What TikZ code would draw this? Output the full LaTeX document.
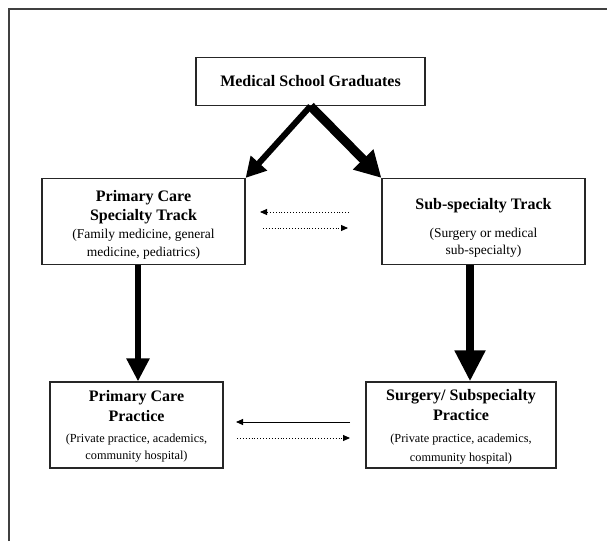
\documentclass[tikz,border=0pt]{standalone}
\usepackage{fontspec}
\setmainfont{Liberation Serif}
\usetikzlibrary{arrows.meta}
\tikzset{
  box/.style={draw=black!85, line width=1.2pt, rectangle, inner sep=0pt, align=center,
              font=\fontsize{12}{18}\selectfont},
  thin arrow/.style={line width=0.9pt, -{Triangle[length=7pt,width=6pt]}},
  dot arrow/.style={line width=0.9pt, dotted, -{Triangle[length=7pt,width=6pt]}},
}
\newcommand{\smalltxt}{\fontsize{12.3}{18}\selectfont\mdseries}
\newcommand{\midtxt}{\fontsize{13.5}{18}\selectfont\mdseries}
\newcommand{\bigtxt}{\fontsize{16}{18}\selectfont\bfseries}
\begin{document}
\begin{tikzpicture}[x=1pt,y=-1pt]
\useasboundingbox (0,0) rectangle (607,541);
% outer frame
\draw[line width=1.5pt, black!75] (9,541) -- (9,9) -- (607,9);

\node[box, minimum width=229pt, minimum height=48pt] (msg) at (310.5,81.5) {\bigtxt Medical School Graduates};

\node[box, minimum width=203pt, minimum height=86pt] (pct) at (143.5,221.5)
  {\bigtxt\rule{0pt}{17pt}Primary Care\\[1pt]
   \bigtxt Specialty Track\\
   \midtxt (Family medicine, general\\ \midtxt medicine, pediatrics)};

\node[box, minimum width=203pt, minimum height=86pt] (sst) at (483.5,221.5)
  {\bigtxt\rule{0pt}{24pt}Sub-specialty Track\\[10pt]
   \midtxt (Surgery or medical\\[-1pt] \midtxt sub-specialty)};

\node[box, minimum width=173pt, minimum height=86pt] (pcp) at (136.5,425)
  {\bigtxt\rule{0pt}{14pt}Primary Care\\[2pt]
   \bigtxt Practice\\[3pt]
   \smalltxt (Private practice, academics,\\[-1pt] \smalltxt community hospital)};

\node[box, minimum width=190pt, minimum height=86pt] (spp) at (461,425)
  {\bigtxt\rule{0pt}{14pt}Surgery/ Subspecialty\\[2pt]
   \bigtxt Practice\\[4pt]
   \smalltxt (Private practice, academics,\\[1pt] \smalltxt community hospital)};

% diagonal arrows
\draw[line width=6pt, -{Triangle[length=20pt,width=21pt]}] (msg.south) -- (pct.north east);
\draw[line width=9pt, -{Triangle[length=26pt,width=27pt]}] (msg.south) -- (sst.north west);

% vertical arrows
\draw[line width=5.5pt, -{Triangle[length=23pt,width=22pt]}] ([xshift=-5.5pt]pct.south) -- ([xshift=1.5pt]pcp.north);
\draw[line width=8.5pt, -{Triangle[length=31pt,width=29pt]}] ([xshift=-13.5pt]sst.south) -- ([xshift=9pt]spp.north);

% horizontal arrows between tracks
\coordinate (t1a) at (349,212);
\coordinate (t1b) at (260,212);
\coordinate (t2a) at (263,228);
\coordinate (t2b) at (348,228);
\draw[dot arrow] (t1a) -- (t1b);
\draw[dot arrow] (t2a) -- (t2b);

% horizontal arrows between practices
\coordinate (p1a) at (350,422);
\coordinate (p1b) at (236,422);
\coordinate (p2a) at (237,438);
\coordinate (p2b) at (350,438);
\draw[thin arrow] (p1a) -- (p1b);
\draw[dot arrow] (p2a) -- (p2b);
\end{tikzpicture}
\end{document}
